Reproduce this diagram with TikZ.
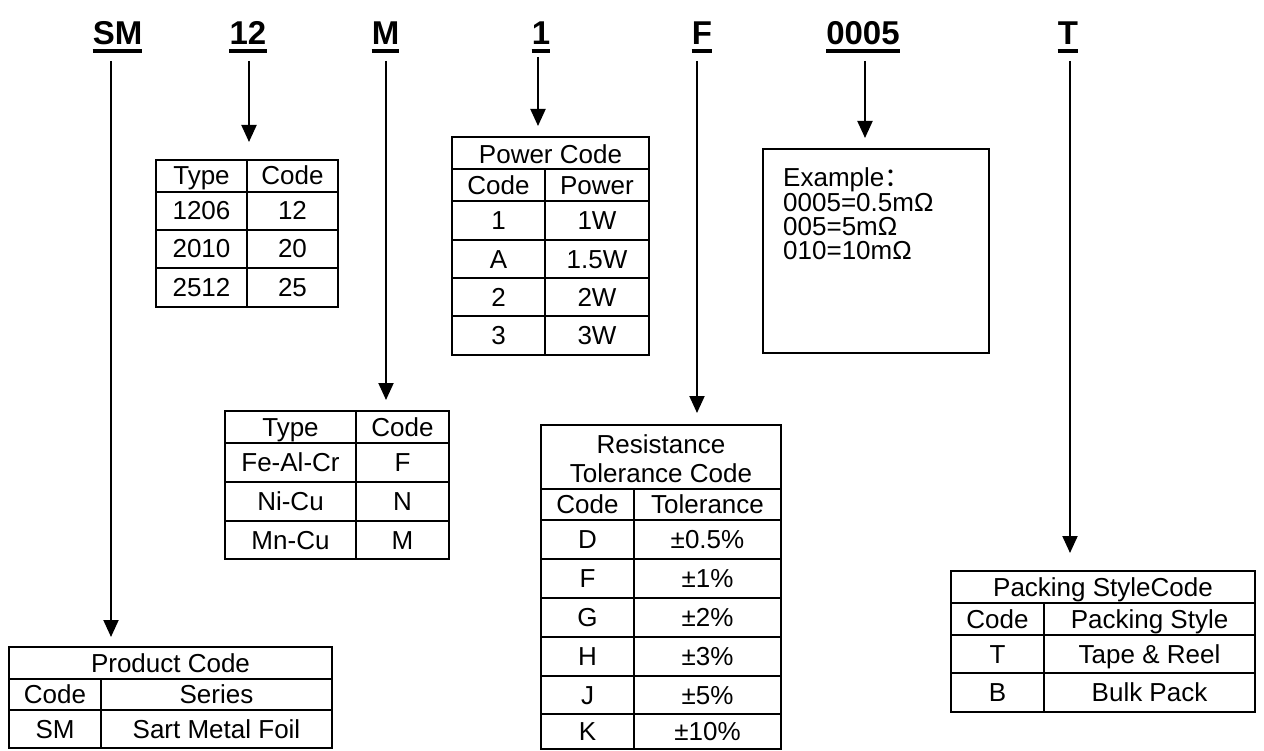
\documentclass[tikz,border=0pt]{standalone}
\usepackage{fontspec}
\setmainfont{Liberation Sans}
\newfontfamily\cjk{Noto Sans CJK SC}
\usetikzlibrary{arrows.meta}
\begin{document}
\begin{tikzpicture}[x=1pt,y=-1pt,
  lbl/.style={font=\fontsize{33}{33}\selectfont\bfseries, inner sep=0pt, text depth=0pt, anchor=base},
  ul/.style={line width=4pt},
  arr/.style={line width=2pt, -{Triangle[length=17pt,width=15pt]}},
  tbl/.style={draw, line width=2pt, anchor=north west, inner sep=0pt, outer sep=0pt},
  grid/.style={line width=2pt},
  cell/.style={font=\fontsize{26}{26}\selectfont, inner sep=0pt, text height=18.6pt, text depth=0pt, anchor=center},
  ctext/.style={font=\fontsize{26}{26}\selectfont, inner sep=0pt, anchor=base},
  ex/.style={font=\fontsize{26}{26}\selectfont, inner sep=0pt, anchor=base west},
]
\useasboundingbox (0,0) rectangle (1264,751);
\fill[white] (0,0) rectangle (1264,751);

% ---- top code labels ----
\node[lbl] (lSM) at (117.5,45) {SM};
\node[lbl] (l12) at (248,45) {12};
\node[lbl] (lM) at (385.5,45) {M};
\node[lbl] (l1) at (541,45) {1};
\node[lbl] (lF) at (702,45) {F};
\node[lbl] (l0005) at (863,45) {0005};
\node[lbl] (lT) at (1068,45) {T};
\foreach \n in {lSM,l12,lM,l1,lF,l0005,lT}
  \draw[ul] ([yshift=-6pt]\n.base west) -- ([yshift=-6pt]\n.base east);

% ---- Type / Code table ----
\node[tbl, minimum width=182pt, minimum height=147pt] (tType) at (156,160) {};
\draw[grid] (156,192) -- (338,192) (156,230) -- (338,230) (156,268) -- (338,268);
\draw[grid] (247,160) -- (247,307);
\node[cell] (a1) at (201.5,175) {Type};
\node[cell] (a2) at (292.5,175) {Code};
\node[cell] (a3) at (201.5,210) {1206};
\node[cell] (a4) at (292.5,210) {12};
\node[cell] (a5) at (201.5,248) {2010};
\node[cell] (a6) at (292.5,248) {20};
\node[cell] (a7) at (201.5,287) {2512};
\node[cell] (a8) at (292.5,287) {25};

% ---- Power Code table ----
\node[tbl, minimum width=197pt, minimum height=218pt] (tPow) at (452,137) {};
\draw[grid] (452,169) -- (649,169) (452,201) -- (649,201) (452,240) -- (649,240)
            (452,278) -- (649,278) (452,316) -- (649,316);
\draw[grid] (545,169) -- (545,355);
\node[cell] (b0) at (550.5,154) {Power Code};
\node[cell] (b1) at (498.5,185) {Code};
\node[cell] (b2) at (597,185) {Power};
\node[cell] (b3) at (498.5,220) {1};
\node[cell] (b4) at (597,220) {1W};
\node[cell] (b5) at (498.5,259) {A};
\node[cell] (b6) at (597,259) {1.5W};
\node[cell] (b7) at (498.5,297) {2};
\node[cell] (b8) at (597,297) {2W};
\node[cell] (b9) at (498.5,335) {3};
\node[cell] (b10) at (597,335) {3W};

% ---- Example box ----
\node[tbl, minimum width=226pt, minimum height=204pt] (tEx) at (763,149) {};
\node[ex] (e1) at (783,187) {Example{\cjk ：}};
\node[ex] (e2) at (783,212) {0005=0.5mΩ};
\node[ex] (e3) at (783,236) {005=5mΩ};
\node[ex] (e4) at (783,260) {010=10mΩ};

% ---- Material table ----
\node[tbl, minimum width=224pt, minimum height=148pt] (tMat) at (225,411) {};
\draw[grid] (225,443) -- (449,443) (225,482) -- (449,482) (225,521) -- (449,521);
\draw[grid] (356,411) -- (356,559);
\node[cell] (c1) at (290.5,427) {Type};
\node[cell] (c2) at (402.5,427) {Code};
\node[cell] (c3) at (290.5,462) {Fe-Al-Cr};
\node[cell] (c4) at (402.5,462) {F};
\node[cell] (c5) at (290.5,501) {Ni-Cu};
\node[cell] (c6) at (402.5,501) {N};
\node[cell] (c7) at (290.5,540) {Mn-Cu};
\node[cell] (c8) at (402.5,540) {M};

% ---- Tolerance table ----
\node[tbl, minimum width=240pt, minimum height=324pt] (tTol) at (541,425) {};
\draw[grid] (541,489) -- (781,489) (541,520) -- (781,520) (541,559) -- (781,559)
            (541,598) -- (781,598) (541,637) -- (781,637) (541,676) -- (781,676)
            (541,714) -- (781,714);
\draw[grid] (634,489) -- (634,749);
\node[ctext] (d0a) at (661,453) {Resistance};
\node[ctext] (d0b) at (661,482) {Tolerance Code};
\node[cell] (d1) at (587.5,504) {Code};
\node[cell] (d2) at (707.5,504) {Tolerance};
\node[cell] (d3) at (587.5,539) {D};
\node[cell] (d4) at (707.5,539) {±0.5\%};
\node[cell] (d5) at (587.5,578) {F};
\node[cell] (d6) at (707.5,578) {±1\%};
\node[cell] (d7) at (587.5,617) {G};
\node[cell] (d8) at (707.5,617) {±2\%};
\node[cell] (d9) at (587.5,656) {H};
\node[cell] (d10) at (707.5,656) {±3\%};
\node[cell] (d11) at (587.5,695) {J};
\node[cell] (d12) at (707.5,695) {±5\%};
\node[cell] (d13) at (587.5,731) {K};
\node[cell] (d14) at (707.5,731) {±10\%};

% ---- Product Code table ----
\node[tbl, minimum width=323pt, minimum height=101pt] (tProd) at (9,647) {};
\draw[grid] (9,679) -- (332,679) (9,710) -- (332,710);
\draw[grid] (101,679) -- (101,748);
\node[cell] (f0) at (170.5,663) {Product Code};
\node[cell] (f1) at (55,694) {Code};
\node[cell] (f2) at (216.5,694) {Series};
\node[cell] (f3) at (55,729) {SM};
\node[cell] (f4) at (216.5,729) {Sart Metal Foil};

% ---- Packing table ----
\node[tbl, minimum width=304pt, minimum height=141pt] (tPack) at (951,571) {};
\draw[grid] (951,603) -- (1255,603) (951,635) -- (1255,635) (951,673) -- (1255,673);
\draw[grid] (1044,603) -- (1044,712);
\node[cell] (g0) at (1103,587) {Packing StyleCode};
\node[cell] (g1) at (997.5,619) {Code};
\node[cell] (g2) at (1149.5,619) {Packing Style};
\node[cell] (g3) at (997.5,654) {T};
\node[cell] (g4) at (1149.5,654) {Tape \& Reel};
\node[cell] (g5) at (997.5,692) {B};
\node[cell] (g6) at (1149.5,692) {Bulk Pack};

% ---- arrows ----
\coordinate (aSM) at ([xshift=-6.5pt]lSM.base);
\coordinate (a12) at ([xshift=1pt]l12.base);
\coordinate (aM) at ([xshift=0.5pt]lM.base);
\coordinate (a1x) at ([xshift=-3pt]l1.base);
\coordinate (aF) at ([xshift=-5pt]lF.base);
\coordinate (a0005) at ([xshift=2pt]l0005.base);
\coordinate (aT) at ([xshift=2pt]lT.base);
\draw[arr, shorten >=10pt] ([yshift=-16pt]aSM) -- (aSM |- tProd.north);
\draw[arr, shorten >=18pt] ([yshift=-16pt]a12) -- (a12 |- tType.north);
\draw[arr, shorten >=11pt] ([yshift=-16pt]aM) -- (aM |- tMat.north);
\draw[arr, shorten >=11pt] ([yshift=-12pt]a1x) -- (a1x |- tPow.north);
\draw[arr, shorten >=12pt] ([yshift=-16pt]aF) -- (aF |- tTol.north);
\draw[arr, shorten >=11pt] ([yshift=-16pt]a0005) -- (a0005 |- tEx.north);
\draw[arr, shorten >=18pt] ([yshift=-16pt]aT) -- (aT |- tPack.north);
\end{tikzpicture}
\end{document}
